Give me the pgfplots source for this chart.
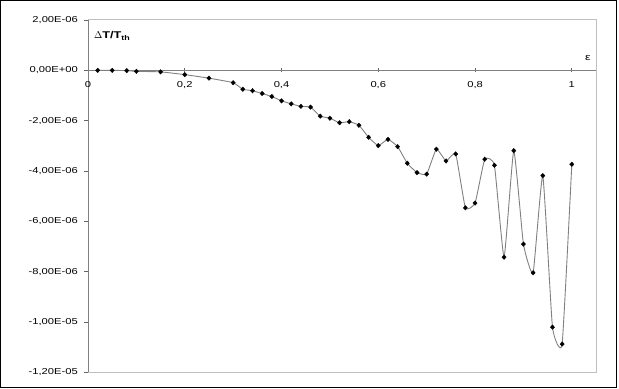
\documentclass[border=0pt]{standalone}
\usepackage{pgfplots}
\pgfplotsset{compat=1.18}
\usepackage{fontspec}
\setmainfont[FakeStretch=1.3]{Liberation Sans}

% deviation of the threshold temperature vs. epsilon
\pgfplotstableread{
eps    dT
0.02   0
0.05   0
0.08  -0.01e-6
0.10  -0.04e-6
0.15  -0.06e-6
0.20  -0.17e-6
0.25  -0.31e-6
0.30  -0.49e-6
0.32  -0.75e-6
0.34  -0.81e-6
0.36  -0.92e-6
0.38  -1.04e-6
0.40  -1.21e-6
0.42  -1.33e-6
0.44  -1.43e-6
0.46  -1.46e-6
0.48  -1.82e-6
0.50  -1.90e-6
0.52  -2.08e-6
0.54  -2.04e-6
0.56  -2.18e-6
0.58  -2.66e-6
0.60  -2.99e-6
0.62  -2.74e-6
0.64  -3.03e-6
0.66  -3.69e-6
0.68  -4.06e-6
0.70  -4.12e-6
0.72  -3.13e-6
0.74  -3.60e-6
0.76  -3.32e-6
0.78  -5.46e-6
0.80  -5.27e-6
0.82  -3.53e-6
0.84  -3.77e-6
0.86  -7.42e-6
0.88  -3.19e-6
0.90  -6.90e-6
0.92  -8.04e-6
0.94  -4.18e-6
0.96  -10.20e-6
0.98  -10.87e-6
1.00  -3.73e-6
}\dTdata

\begin{document}
\begin{tikzpicture}[x=1bp,y=1bp]
\useasboundingbox (0,0) rectangle (619,388);
\draw[black, line width=1bp] (0.5,0.5) rectangle (616.5,387.5);
\begin{axis}[
    at={(88bp,15.5bp)}, anchor=south west, scale only axis,
    width=508bp, height=352.5bp,
    xmin=0, xmax=1.05, ymin=-1.2e-5, ymax=2e-6,
    axis x line*=middle, axis y line*=left,
    hide obscured x ticks=false,
    x axis line style={-, draw=black!50, line width=0.8bp},
    y axis line style={-, draw=black!50, line width=1bp},
    xtick={0,0.2,0.4,0.6,0.8,1},
    xticklabels={0,{0,2},{0,4},{0,6},{0,8},1},
    ytick={-12e-6,-10e-6,-8e-6,-6e-6,-4e-6,-2e-6,0,2e-6},
    yticklabels={{-1,20E-05},{-1,00E-05},{-8,00E-06},{-6,00E-06},{-4,00E-06},{-2,00E-06},{0,00E+00},{2,00E-06}},
    scaled y ticks=false,
    xtick align=center, ytick align=outside,
    major tick length=4bp,
    tick style={draw=black!60, line width=0.8bp},
    ticklabel style={font=\fontsize{8.6bp}{10bp}\selectfont},
    xticklabel style={yshift=-6bp},
    yticklabel style={xshift=-4bp, inner sep=2bp},
    clip=false,
]
\draw[black!25, line width=1bp] (rel axis cs:0,1) -- (rel axis cs:1,1) -- (rel axis cs:1,0) -- (rel axis cs:0,0);
\addplot[black!50, line width=0.9bp, smooth, tension=0.25, mark=diamond*, mark size=2.3bp,
    mark options={fill=black, draw=black, line width=0.3bp, xscale=1.25}] table[x=eps, y=dT] {\dTdata};
\node[anchor=west, font=\fontsize{9.8bp}{11bp}\selectfont\bfseries, inner sep=0pt]
    at (axis cs:0.012,1.36e-6) {$\Delta$T/T\textsubscript{th}};
\node[font=\fontsize{9.5bp}{11bp}\selectfont, inner sep=0pt]
    at (axis cs:1.033,0.48e-6) {ε};
\end{axis}
\end{tikzpicture}
\end{document}
